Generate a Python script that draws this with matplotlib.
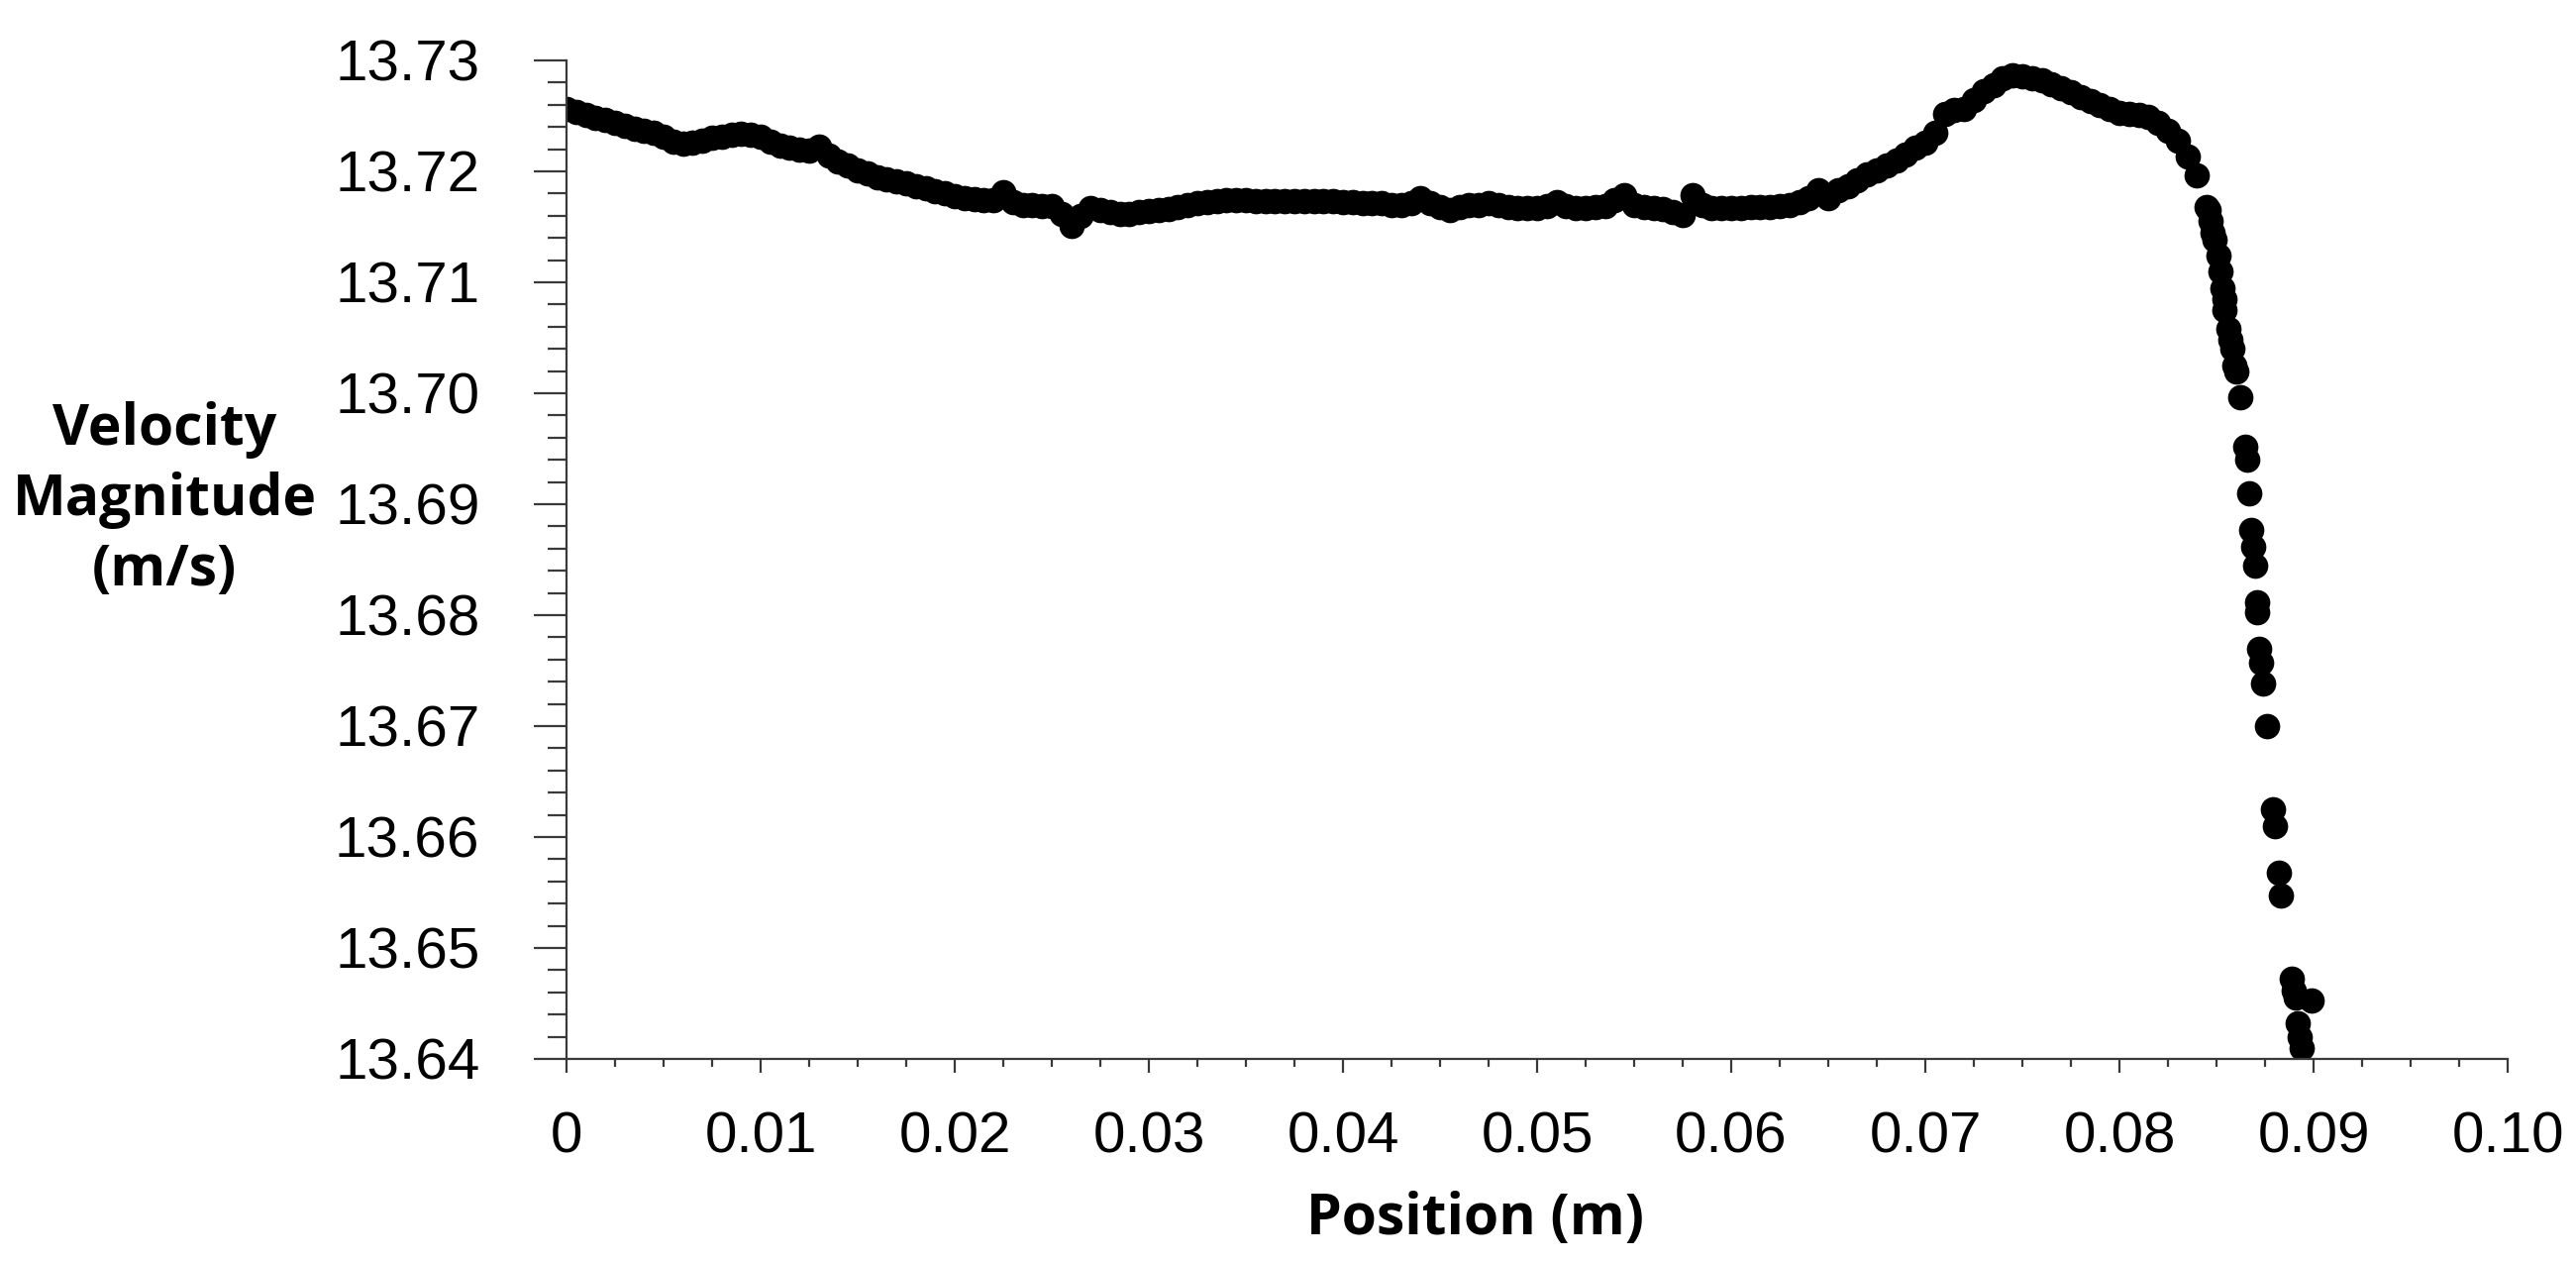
import numpy as np
import matplotlib
matplotlib.use("Agg")
import matplotlib.pyplot as plt
from matplotlib.ticker import MultipleLocator, FuncFormatter

# velocity profile, dense part (x every 0.5 mm from 0 to 84.5 mm)
band_x = np.arange(0, 170) * 0.0005
band_v = [
    13.7256, 13.7254, 13.7251, 13.7248, 13.7246, 13.7244, 13.7241, 13.7238, 13.7237, 13.7235,
    13.7231, 13.7227, 13.7225, 13.7226, 13.7228, 13.7230, 13.7231, 13.7233, 13.7234, 13.7233,
    13.7231, 13.7227, 13.7223, 13.7221, 13.7220, 13.7219, 13.7222, 13.7214, 13.7209, 13.7205,
    13.7201, 13.7198, 13.7195, 13.7193, 13.7191, 13.7189, 13.7187, 13.7185, 13.7182, 13.7180,
    13.7178, 13.7176, 13.7175, 13.7174, 13.7174, 13.7181, 13.7172, 13.7170, 13.7170, 13.7169,
    13.7169, 13.7162, 13.7151, 13.7160, 13.7167, 13.7165, 13.7163, 13.7162, 13.7162, 13.7163,
    13.7164, 13.7165, 13.7166, 13.7168, 13.7170, 13.7171, 13.7172, 13.7173, 13.7174, 13.7174,
    13.7174, 13.7173, 13.7173, 13.7173, 13.7173, 13.7173, 13.7173, 13.7173, 13.7173, 13.7173,
    13.7172, 13.7172, 13.7171, 13.7171, 13.7171, 13.7170, 13.7170, 13.7171, 13.7176, 13.7171,
    13.7168, 13.7165, 13.7168, 13.7170, 13.7170, 13.7171, 13.7170, 13.7168, 13.7167, 13.7167,
    13.7167, 13.7169, 13.7172, 13.7169, 13.7167, 13.7167, 13.7168, 13.7169, 13.7174, 13.7179,
    13.7170, 13.7168, 13.7167, 13.7166, 13.7163, 13.7161, 13.7179, 13.7170, 13.7167, 13.7167,
    13.7167, 13.7167, 13.7168, 13.7168, 13.7168, 13.7169, 13.7170, 13.7172, 13.7176, 13.7183,
    13.7176, 13.7183, 13.7187, 13.7192, 13.7197, 13.7201, 13.7205, 13.7210, 13.7215, 13.7221,
    13.7226, 13.7235, 13.7252, 13.7255, 13.7256, 13.7264, 13.7272, 13.7278, 13.7284, 13.7287,
    13.7286, 13.7284, 13.7282, 13.7279, 13.7275, 13.7271, 13.7267, 13.7263, 13.7260, 13.7256,
    13.7253, 13.7252, 13.7251, 13.7249, 13.7244, 13.7237, 13.7228, 13.7213, 13.7196, 13.7168,
]

# steep drop near the wall
drop_x = [0.0846, 0.0847, 0.0848, 0.0849, 0.0851, 0.0852, 0.0853, 0.0854, 0.0854, 0.0856,
          0.0857, 0.0858, 0.0859, 0.0860, 0.0862, 0.0865, 0.0866, 0.0867, 0.0868, 0.0869,
          0.0870, 0.0871, 0.0871, 0.0872, 0.0873, 0.0874, 0.0876, 0.0879, 0.0880, 0.0882,
          0.0883, 0.0889, 0.0890, 0.0891, 0.0899, 0.0892, 0.0893, 0.0894]
drop_v = [13.7165, 13.7155, 13.7145, 13.7138, 13.7124, 13.7110, 13.7095, 13.7085, 13.7075, 13.7058,
          13.7048, 13.7040, 13.7025, 13.7020, 13.6996, 13.6952, 13.6940, 13.6910, 13.6877, 13.6862,
          13.6845, 13.6812, 13.6803, 13.6770, 13.6757, 13.6738, 13.6700, 13.6625, 13.6610, 13.6568,
          13.6547, 13.6472, 13.6462, 13.6455, 13.6453, 13.6432, 13.6420, 13.6410]

W, H = 2601, 1273
fig = plt.figure(figsize=(W / 100, H / 100), dpi=100)
left, right, top, bottom = 572, 2532, 61, 1069
ax = fig.add_axes([left / W, 1 - bottom / H, (right - left) / W, (bottom - top) / H])

x = np.concatenate([band_x, drop_x])
v = np.concatenate([band_v, drop_v])
ax.plot(x, v, linestyle='none', marker='o', markersize=18.5,
        markerfacecolor='black', markeredgecolor='black', markeredgewidth=0)

ax.set_xlim(0, 0.10)
ax.set_ylim(13.64, 13.73)

ax.xaxis.set_major_locator(MultipleLocator(0.01))
ax.xaxis.set_minor_locator(MultipleLocator(0.0025))
ax.yaxis.set_major_locator(MultipleLocator(0.01))
ax.yaxis.set_minor_locator(MultipleLocator(0.002))
ax.xaxis.set_major_formatter(FuncFormatter(lambda val, pos: '0' if abs(val) < 1e-9 else '{:.2f}'.format(val)))
ax.yaxis.set_major_formatter(FuncFormatter(lambda val, pos: '{:.2f}'.format(val)))

for side in ['top', 'right']:
    ax.spines[side].set_visible(False)
for side in ['left', 'bottom']:
    ax.spines[side].set_color('#3a3a3a')
    ax.spines[side].set_linewidth(1.6)

tick_font = 'Liberation Sans'
ax.tick_params(axis='x', which='major', direction='out', length=10, width=1.6,
               color='#3a3a3a', pad=28, labelsize=42)
ax.tick_params(axis='x', which='minor', direction='out', length=5.5, width=1.6, color='#3a3a3a')
ax.tick_params(axis='y', which='major', direction='out', length=24, width=1.6,
               color='#3a3a3a', pad=39, labelsize=42)
ax.tick_params(axis='y', which='minor', direction='out', length=13.5, width=1.6, color='#3a3a3a')
for lab in ax.get_xticklabels() + ax.get_yticklabels():
    lab.set_fontfamily(tick_font)

fig.text(166 / W, 1 - 505 / H, 'Velocity\nMagnitude\n(m/s)', ha='center', va='center',
         fontsize=41, fontweight='bold', family='Open Sans', linespacing=1.3)
fig.text(1489 / W, 1 - 1231 / H, 'Position (m)', ha='center', va='center',
         fontsize=41, fontweight='bold', family='Open Sans')

fig.savefig('out.png', dpi=100)
